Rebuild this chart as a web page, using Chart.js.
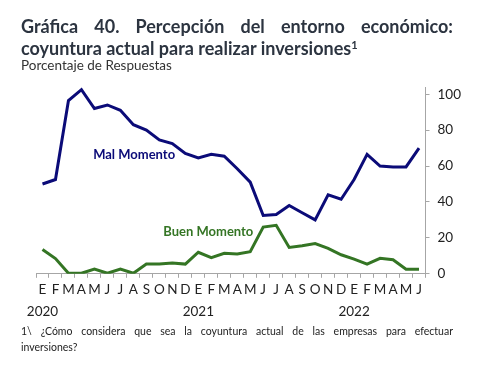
<!DOCTYPE html>
<html>
<head>
<meta charset="utf-8">
<script src="https://cdn.jsdelivr.net/npm/chart.js@4"></script>
<style>
  body { margin: 0; background: #fff; width: 477px; height: 391px; position: relative; overflow: hidden; font-family: Lato, sans-serif; }
  #chart { position: absolute; left: 0; top: 0; }
  .title { position: absolute; left: 21px; width: 432px; font-weight: bold; font-size: 18px; color: #2c3440; }
  .t1 { top: 15px; text-align: justify; text-align-last: justify; }
  .t2 { top: 37px; }
  .t2 sup { font-size: 11px; vertical-align: 6px; line-height: 0; }
  .sub { position: absolute; left: 21px; top: 57px; font-size: 13.5px; color: #333; }
  .foot { position: absolute; left: 21px; width: 432px; font-size: 10.5px; color: #222; }
  .f1 { top: 325px; text-align: justify; text-align-last: justify; }
  .f2 { top: 341px; }
</style>
</head>
<body>
<canvas id="chart" width="477" height="391"></canvas>
<div class="title t1">Gráfica 40. Percepción del entorno económico:</div>
<div class="title t2">coyuntura actual para realizar inversiones<sup>1</sup></div>
<div class="sub">Porcentaje de Respuestas</div>
<div class="foot f1">1\ ¿Cómo considera que sea la coyuntura actual de las empresas para efectuar</div>
<div class="foot f2">inversiones?</div>
<script>
const months = ["E", "F", "M", "A", "M", "J", "J", "A", "S", "O", "N", "D",
                "E", "F", "M", "A", "M", "J", "J", "A", "S", "O", "N", "D",
                "E", "F", "M", "A", "M", "J"];
const years = {0: "2020", 12: "2021", 24: "2022"};

const malMomento = [50, 52.5, 96.5, 102.5, 92, 94, 91, 83, 80, 74.5, 72.5, 67,
                    64.5, 66.5, 65.5, 58.5, 51, 32.5, 33, 38, 34, 30, 44, 41.5,
                    52.5, 66.5, 60, 59.5, 59.5, 70];
const buenMomento = [13.5, 8.5, 0.3, 0.3, 2.6, 0.3, 2.6, 0.3, 5.4, 5.4, 6, 5.4,
                     12, 9, 11.4, 11, 12.3, 26, 27, 14.7, 15.6, 16.8, 14.2, 10.6,
                     8.2, 5.4, 8.6, 7.8, 2.6, 2.6];
const yTicks = [0, 20, 40, 60, 80, 100];

const navy = '#0b0b78';
const green = '#347524';

const labels = months.map((m, i) => years[i] ? [m, years[i]] : m);

// etiquetas de las series dentro del grafico
const seriesLabels = {
    id: 'seriesLabels',
    afterDatasetsDraw(chart) {
        const ctx = chart.ctx;
        const x = chart.scales.x, y = chart.scales.y;
        ctx.save();
        ctx.font = 'bold 13px Lato';
        ctx.textBaseline = 'middle';
        ctx.fillStyle = navy;
        ctx.fillText('Mal Momento', x.getPixelForValue(3.9), y.getPixelForValue(66));
        ctx.fillStyle = green;
        ctx.fillText('Buen Momento', x.getPixelForValue(9.3), y.getPixelForValue(23.5));
        ctx.restore();
    }
};

new Chart(document.getElementById('chart'), {
    type: 'line',
    data: {
        labels: labels,
        datasets: [{
            label: 'Mal Momento',
            data: malMomento,
            borderColor: navy,
            borderWidth: 3,
            pointRadius: 0,
            tension: 0
        }, {
            label: 'Buen Momento',
            data: buenMomento,
            borderColor: green,
            borderWidth: 3,
            pointRadius: 0,
            tension: 0
        }]
    },
    options: {
        responsive: false,
        devicePixelRatio: 1,
        animation: false,
        layout: { padding: { left: 36, right: 8, top: 87, bottom: 68 } },
        plugins: { legend: { display: false }, tooltip: { enabled: false } },
        scales: {
            x: {
                offset: true,
                grid: { offset: true, drawOnChartArea: false, tickLength: 4, color: '#a6a6a6' },
                border: { color: '#a6a6a6' },
                ticks: {
                    autoSkip: false, maxRotation: 0, minRotation: 0,
                    color: '#222', padding: 1,
                    font: { family: 'Lato', size: 13.5, lineHeight: 1.6 }
                }
            },
            y: {
                position: 'right',
                min: 0, max: 104,
                afterBuildTicks: (scale) => { scale.ticks = yTicks.map(v => ({ value: v })); },
                grid: { drawOnChartArea: false, tickLength: 4, color: '#a6a6a6' },
                border: { color: '#a6a6a6' },
                ticks: { color: '#222', padding: 8, font: { family: 'Lato', size: 13.5 } }
            }
        }
    },
    plugins: [seriesLabels]
});
</script>
</body>
</html>
